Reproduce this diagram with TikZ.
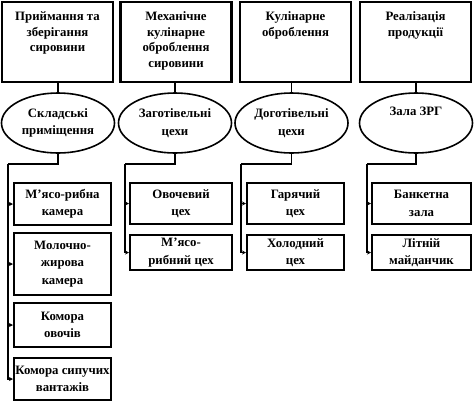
\documentclass[tikz,border=0pt]{standalone}
\usepackage{fontspec}
\setmainfont{Liberation Serif}
\usetikzlibrary{shapes.geometric,arrows.meta}
\begin{document}
\begin{tikzpicture}[x=0.75pt,y=-0.75pt,
  txt/.style={font=\fontsize{9.6}{11.6}\selectfont\bfseries, align=center, inner sep=0pt},
  txtwide/.style={font=\fontsize{9.6}{13}\selectfont\bfseries, align=center, inner sep=0pt},
  topbox/.style={draw, line width=1.6pt, minimum width=83.25pt, minimum height=60pt, inner sep=0pt},
  oval/.style={draw, ellipse, line width=1.2pt, minimum width=84.75pt, minimum height=45pt, inner sep=0pt, txtwide},
  subbox/.style={draw, line width=1.5pt, inner sep=0pt, txtwide},
  conn/.style={line width=1.2pt},
  arr/.style={line width=1.2pt, -{Stealth[length=3pt,width=3pt]}}
]
\useasboundingbox (0,0) rectangle (474,405);
% top boxes
\node[topbox] (t1) at (57.5,42) {};
\node[topbox] (t2) at (176,42) {};
\node[topbox] (t3) at (295.5,42) {};
\node[topbox] (t4) at (415.5,42) {};
\node[txt, anchor=north] (t1t) at ([yshift=-8pt]t1.north) {Приймання та\\зберігання\\сировини};
\node[txt, anchor=north] (t2t) at ([yshift=-8pt]t2.north) {Механічне\\кулінарне\\оброблення\\сировини};
\node[txt, anchor=north] (t3t) at ([yshift=-8pt]t3.north) {Кулінарне\\оброблення};
\node[txt, anchor=north] (t4t) at ([yshift=-8pt]t4.north) {Реалізація\\продукції};
% ellipses
\node[oval] (e1) at (58,123) {Складські\\приміщення};
\node[oval] (e2) at (175,123) {Заготівельні\\цехи};
\node[oval] (e3) at (291.5,123) {Доготівельні\\цехи};
\node[oval] (e4) at (416,123) {Зала ЗРГ\\[5pt]};
\draw[conn] (e1.north) -- (e1.north |- t1.south);
\draw[conn] (e2.north) -- (e2.north |- t2.south);
\draw[conn] (e3.north) -- (e3.north |- t3.south);
\draw[conn] (e4.north) -- (e4.north |- t4.south);
% sub boxes column 1
\node[subbox, minimum width=72.75pt, minimum height=31.5pt] (s11) at (62.5,204) {М’ясо-рибна\\камера};
\node[subbox, minimum width=72.75pt, minimum height=46.5pt] (s12) at (62.5,264) {Молочно-\\жирова\\камера};
\node[subbox, minimum width=72.75pt, minimum height=33pt] (s13) at (62.5,325) {Комора\\овочів};
\node[subbox, minimum width=72.75pt, minimum height=31.5pt] (s14) at (62.5,379) {Комора сипучих\\вантажів};
% column 2
\node[subbox, minimum width=76.5pt, minimum height=30.75pt] (s21) at (181,203.5) {Овочевий\\цех};
\node[subbox, minimum width=76.5pt, minimum height=26.25pt] (s22) at (181,252.5) {М’ясо-\\рибний цех};
% column 3
\node[subbox, minimum width=72.75pt, minimum height=30.75pt] (s31) at (295.5,203.5) {Гарячий\\цех};
\node[subbox, minimum width=72.75pt, minimum height=26.25pt] (s32) at (295.5,252.5) {Холодний\\цех};
% column 4
\node[subbox, minimum width=74.25pt, minimum height=30.75pt] (s41) at (421.5,203.5) {Банкетна\\зала};
\node[subbox, minimum width=74.25pt, minimum height=26.25pt] (s42) at (421.5,252.5) {Літній\\майданчик};
% branch coordinates
\coordinate (c1) at (8,164);
\coordinate (c2) at (125,164);
\coordinate (c3) at (241,164);
\coordinate (c4) at (367,164);
\draw[conn] (e1.south) |- (c1);
\draw[conn] (e2.south) |- (c2);
\draw[conn] (e3.south) |- (c3);
\draw[conn] (e4.south) |- (c4);
\draw[arr] (c1) |- (s11.west);
\draw[arr] (c1) |- (s12.west);
\draw[arr] (c1) |- (s13.west);
\draw[arr] (c1) |- (s14.west);
\draw[arr] (c2) |- (s21.west);
\draw[arr] (c2) |- (s22.west);
\draw[arr] (c3) |- (s31.west);
\draw[arr] (c3) |- (s32.west);
\draw[arr] (c4) |- (s41.west);
\draw[arr] (c4) |- (s42.west);
\end{tikzpicture}
\end{document}
